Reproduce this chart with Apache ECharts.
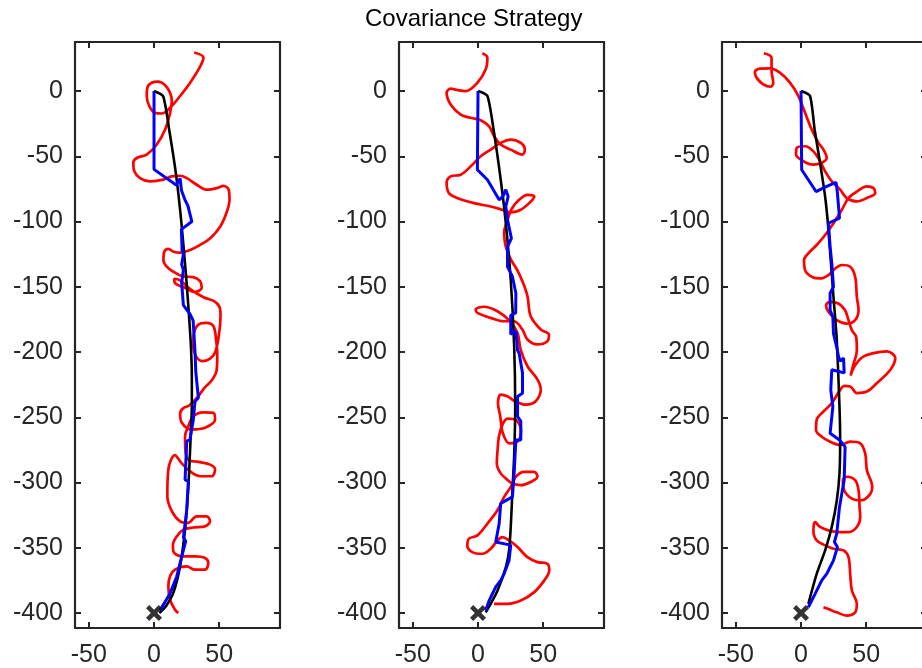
<!DOCTYPE html>
<html>
<head>
<meta charset="utf-8">
<script src="https://cdn.jsdelivr.net/npm/echarts@6/dist/echarts.min.js"></script>
<style>
  html, body { margin: 0; padding: 0; background: #ffffff; }
  #chart { width: 922px; height: 668px; }
</style>
</head>
<body>
<div id="chart"></div>
<script>
// ---- Tick values ----
const xTicks = [-50, 0, 50];
const yTicks = [-400, -350, -300, -250, -200, -150, -100, -50, 0];
const startPoint = [[0, -400]];

// ---- Run 1 ----
const truth1 = [[0,0],[7,-4],[12,-32],[17,-65],[21,-101],[25,-147],[28,-190],[29,-220],[29,-242],[28,-267],[26.5,-300],[24,-334],[20,-364],[15,-384],[9,-395],[4,-400]];
const est1 = [[0,0],[0,-60],[17,-72],[20,-67],[21,-76],[24,-84],[26,-88],[29,-100],[21,-106],[21.5,-122],[22.5,-125],[21.2,-133],[22.5,-137],[21.2,-147],[22.5,-164],[27.6,-171],[30,-176],[31.4,-199],[32,-215],[34,-235],[31.4,-238],[30.1,-252],[27.6,-267],[25.1,-268.4],[23.8,-298],[26.3,-299],[25.1,-321],[22.5,-342],[24.3,-345],[21.2,-357],[17.4,-372],[12.3,-385],[4.6,-398]];
const meas1 = [[30.8,29.5],[37.9,25.6],[34.9,17.9],[27.7,6.4],[20,-3.8],[12.3,-12.8],[5.9,-17.2],[0.8,-16.7],[-3.6,-11.5],[-5.6,-3.8],[-5.1,2.6],[-1.8,6.4],[3.3,7.2],[8.5,4.4],[12.3,-1.3],[13.6,-7.7],[12.3,-16.7],[8.5,-29.5],[2.1,-41],[-5.6,-48.7],[-13.3,-51.3],[-15.9,-55.1],[-15.1,-61.5],[-10.8,-66.7],[-3.1,-69.2],[7.2,-67.9],[13.6,-65.4],[20,-64.9],[25.1,-66.7],[32.8,-71.8],[40.5,-75.6],[48.2,-74.4],[53.3,-72.6],[57.2,-75.6],[57.9,-83.3],[55.9,-92.3],[50.8,-103.8],[43.1,-112.8],[35.4,-117.9],[27.7,-121.8],[20,-123.8],[14.9,-123.1],[11,-121],[7.9,-123.1],[7.2,-129.5],[9.7,-134.6],[14.9,-138.5],[22,-142],[30,-142.6],[35.3,-145.7],[36.6,-150.8],[31,-154],[24,-151],[16,-147],[15.5,-144],[20,-145],[28,-152],[38,-158],[46,-161],[50,-165],[51,-172],[50,-185],[47,-200],[43,-205],[37,-207],[32,-203],[30,-195],[30.5,-186],[34,-179],[40,-177.6],[45.5,-180],[47.5,-190],[48.5,-202],[48,-214],[44,-222],[39,-227],[33,-235],[27,-241],[22.5,-243],[20,-247],[21.2,-254],[28.9,-259.4],[39.1,-258.1],[46.8,-251.8],[45.5,-246.6],[37.8,-246.2],[30.1,-249.2],[26.3,-256.9],[23.8,-264.6],[24,-275],[27,-283],[33,-284],[43,-286.3],[46.8,-290],[44.2,-295.2],[35.3,-295.2],[27.6,-291.4],[21,-285],[16,-279],[11,-290],[10.2,-310.6],[13.6,-322],[19.9,-329.8],[26,-331],[32.7,-325.9],[40.4,-325.9],[42.9,-329.8],[39.1,-333.6],[30,-334.5],[22.5,-336.1],[17.4,-341.3],[14.5,-348],[14.8,-352.8],[21.2,-356.6],[31.4,-356.6],[39.1,-357.8],[41.6,-361.7],[39.1,-366.8],[31.4,-366.8],[25.1,-364.3],[16.1,-366.8],[12.3,-371.9],[11,-379.6],[12.3,-389.8],[16.1,-397.5],[18.6,-400]];

// ---- Run 2 ----
const truth2 = [[0,0],[7.2,-3.8],[12.3,-32],[17.4,-68],[21.3,-101],[25.1,-145],[27.7,-195],[28.5,-241.8],[27.7,-280],[26.4,-306],[25.1,-334],[23.8,-352],[21.3,-365],[14.9,-383],[9.7,-393],[5.9,-399.5]];
const est2 = [[0,0],[-0.5,-60.3],[7.2,-68],[16.2,-83.3],[19,-81],[21.3,-75.6],[23.1,-80.8],[21.3,-88.5],[22.6,-98.7],[25.6,-112.8],[22.6,-119.2],[22.6,-134.6],[26.4,-142.3],[29,-155],[28.9,-170],[25.1,-171.8],[25.1,-186.4],[29,-183.8],[30.3,-198.7],[31.5,-200.8],[34.1,-216],[34.1,-231.5],[30.3,-234],[30.3,-249.5],[32.8,-253],[32.8,-267.4],[29,-267.4],[27.7,-293],[26.4,-311],[17.4,-316],[16.2,-331.5],[13.6,-345.6],[25.1,-348],[23.8,-359.7],[20,-370],[17.4,-375],[13.6,-380],[8.5,-390.5],[5.9,-398]];
const meas2 = [[3.3,29],[7.2,25.6],[5.9,16.7],[-0.5,6.4],[-9.5,0],[-15.9,0.8],[-21,1.8],[-24.1,-1.3],[-21,-10.3],[-13.3,-18],[-5.6,-20.5],[2,-22.3],[8.5,-27],[12.3,-34.6],[17.4,-41],[25.1,-44.9],[34.1,-48.7],[35.9,-44.9],[32.8,-39.7],[25.1,-37.2],[17.4,-39.7],[9.7,-44.9],[2,-50],[-5.6,-57.7],[-13.3,-64.1],[-21,-65.4],[-24.1,-70.5],[-22.3,-78.2],[-15.9,-82],[-3.1,-85.9],[9.7,-88.5],[18.7,-91],[25.1,-93],[32.8,-91],[40.5,-84.6],[43.1,-80.8],[37.9,-79.5],[31.5,-83.3],[26,-90],[22.6,-98.7],[20,-109],[21.3,-119.2],[25.1,-129],[30,-137],[34,-145.7],[37.9,-157.2],[40.4,-172.5],[48.1,-182.7],[54.4,-186.6],[53.2,-191.7],[45.6,-194.2],[37.9,-190.4],[34,-182.7],[27.6,-176.4],[19.9,-176.4],[9.7,-173.8],[-0.5,-170],[-1.8,-167.4],[4.6,-165.3],[14.9,-168.7],[23.8,-175.6],[30.2,-185.3],[32.7,-198.1],[37.9,-210.9],[45.6,-221.1],[48.1,-228.8],[44.2,-237.7],[36.6,-240.3],[28,-237.5],[22.5,-233.9],[17.4,-232.6],[15.3,-239],[17,-249],[19,-262],[24,-270],[31,-268],[33,-260],[29,-252],[23,-251],[19,-255],[16,-265],[15,-275],[14.4,-285.4],[17.4,-293],[22.6,-298],[26.4,-300.8],[32.8,-302],[40.5,-299.5],[45.6,-295.6],[43.1,-291.8],[35.4,-291.8],[29,-295.6],[25.1,-303.3],[20,-311],[14.9,-321.3],[7.2,-331.5],[-0.5,-340.5],[-6.9,-343],[-8.2,-348.2],[-4.4,-353.3],[3.3,-354.6],[9.7,-350.8],[14.9,-344.4],[18.7,-341.8],[23.8,-344.4],[30.3,-349.5],[37.9,-357.2],[45.6,-361],[53.3,-362.3],[54.6,-367.4],[50.8,-375],[43.1,-384],[32.8,-390.5],[22.6,-393],[12.3,-393]];

// ---- Run 3 ----
const truth3 = [[0,0],[6.9,-3.8],[10.5,-30],[14.6,-55],[18.5,-81],[21,-106],[24.9,-158],[27.4,-190],[29.5,-242],[30,-267],[29.5,-293],[27.4,-314],[23.6,-334],[18.5,-352],[12,-370],[5.6,-393]];
const est3 = [[0,0],[0.5,-60.3],[5.6,-68],[11.5,-77],[19.7,-73],[26.9,-70],[27.9,-78],[29.5,-97.4],[21,-101.3],[22.3,-119],[23.6,-132],[24.9,-150],[22.3,-155],[22.3,-168],[24.4,-173],[24.9,-186],[27.4,-196.4],[28.7,-203.3],[30,-207],[32.6,-204.6],[33.1,-216],[23.6,-213.6],[22.8,-229],[24.4,-241.8],[22.3,-262.3],[29.5,-267.4],[33.8,-272.6],[33.1,-298],[29.5,-318.7],[27.4,-339.2],[25.6,-345.6],[27.9,-349.5],[24.9,-359.7],[19.7,-370],[15.9,-375],[10.8,-385.4],[5.6,-395.6]];
const meas3 = [[-28.5,29],[-22.6,25.6],[-22.6,15.4],[-21.3,6.4],[-23.3,3.3],[-29,5.1],[-34.1,10.3],[-35.4,14.6],[-31.5,17.2],[-23.8,17.4],[-16.2,14.1],[-8.5,6.4],[-2,-3.8],[3.1,-16.7],[8.2,-29.5],[13.3,-39.7],[17.2,-44.9],[19.7,-51.3],[15.9,-55],[9.5,-56.4],[1.8,-53.8],[-3.8,-48.7],[-3.3,-43.6],[3.1,-42.3],[9.5,-46.2],[14.6,-53.8],[18.5,-61.5],[23.6,-69.2],[30,-75.6],[35.1,-82],[42.8,-84.6],[50.5,-82],[56.9,-78.2],[55.6,-74.4],[50.5,-73],[42.8,-77],[36.4,-82],[31.3,-91],[24.9,-101.3],[18.5,-110.3],[12,-118],[5.6,-124.4],[2.3,-129.5],[3.1,-137.2],[8.2,-142.3],[14.6,-143.6],[21,-141],[26.2,-136],[31.3,-133.3],[37.7,-134.6],[41.5,-142.3],[42.8,-157.7],[44.1,-168],[41.5,-175.6],[35.1,-178.2],[27.4,-175.6],[21,-169.2],[19.2,-164.1],[22.3,-161.5],[28.7,-162.8],[33.8,-168],[36.4,-175.6],[39,-183.3],[42.3,-188.5],[42.8,-198.7],[40,-210],[38,-218],[41,-211],[47,-204],[55.6,-200.8],[65.9,-199.5],[72.3,-204.6],[68.5,-213.6],[58.2,-223.8],[50.5,-230.3],[42.8,-231.5],[37.7,-226.4],[33,-226],[30,-229],[23.6,-239.2],[17.2,-245.6],[12,-252],[11.5,-259.7],[15.9,-264.9],[22.3,-268.7],[30,-271.3],[37.7,-268.7],[45.4,-270],[49.2,-277.7],[50.5,-290.5],[54.6,-303.3],[53.3,-308.5],[46.7,-313.6],[39,-312.3],[33.1,-305.9],[32.1,-298.2],[35.1,-295.6],[41.5,-298.2],[44.1,-305.9],[44.9,-318.7],[45.4,-326.4],[42.8,-334.1],[36.4,-338],[28.7,-338],[21,-336.7],[14.6,-334],[10.8,-330.3],[9.5,-336.7],[12,-344.4],[18.5,-348.2],[24.9,-350.8],[32.6,-352],[36.4,-357.2],[37.7,-370],[39,-382.8],[42.8,-393],[41.5,-399.5],[35.1,-402],[27.4,-399.5],[21,-397],[17.2,-395.6]];

const runs = [
  { meas: meas1, truth: truth1, est: est1 },
  { meas: meas2, truth: truth2, est: est2 },
  { meas: meas3, truth: truth3, est: est3 }
];

// ---- Layout & style ----
const gridLefts = [75, 399, 722];
const gridTop = 42;
const gridWidth = 205;
const gridHeight = 586;
const xRange = [-60.6, 96.6];
const yRange = [-411.5, 37.6];
const axisColor = '#262626';
const fontFamily = '"Liberation Sans", Arial, Helvetica, sans-serif';

// bold "x" marker for the start position
const crossPath = 'path://M0,2 L2,0 L5,3 L8,0 L10,2 L7,5 L10,8 L8,10 L5,7 L2,10 L0,8 L3,5 Z';

function makeAxis(kind, gridIndex, position, showLabels, ticks, range) {
  return {
    type: 'value',
    gridIndex: gridIndex,
    position: position,
    min: range[0],
    max: range[1],
    splitLine: { show: false },
    axisLine: { show: true, onZero: false, lineStyle: { color: axisColor, width: 2.2 } },
    axisTick: { show: true, inside: true, length: 6, customValues: ticks, lineStyle: { color: axisColor, width: 2 } },
    axisLabel: {
      show: showLabels,
      customValues: ticks,
      color: axisColor,
      fontFamily: fontFamily,
      fontSize: 25,
      margin: kind === 'x' ? 15 : 12
    }
  };
}

const grids = [];
const xAxes = [];
const yAxes = [];
const series = [];

runs.forEach(function (run, i) {
  grids.push({
    left: gridLefts[i], top: gridTop, width: gridWidth, height: gridHeight,
    containLabel: false, outerBoundsMode: 'none'
  });
  xAxes.push(makeAxis('x', i, 'bottom', true, xTicks, xRange));
  xAxes.push(makeAxis('x', i, 'top', false, xTicks, xRange));
  yAxes.push(makeAxis('y', i, 'left', true, yTicks, yRange));
  yAxes.push(makeAxis('y', i, 'right', false, yTicks, yRange));
  const xi = i * 2;
  const yi = i * 2;
  series.push({
    type: 'line', xAxisIndex: xi, yAxisIndex: yi, data: run.meas,
    smooth: 0.35, showSymbol: false, silent: true, z: 2,
    lineStyle: { color: '#ff0000', width: 2.7 }
  });
  series.push({
    type: 'line', xAxisIndex: xi, yAxisIndex: yi, data: run.truth,
    smooth: 0.2, showSymbol: false, silent: true, z: 3,
    lineStyle: { color: '#000000', width: 2.6 }
  });
  series.push({
    type: 'line', xAxisIndex: xi, yAxisIndex: yi, data: run.est,
    smooth: false, showSymbol: false, silent: true, z: 4,
    lineStyle: { color: '#0000ff', width: 3 }
  });
  series.push({
    type: 'scatter', xAxisIndex: xi, yAxisIndex: yi, data: startPoint,
    symbol: crossPath, symbolSize: 16, silent: true, z: 5,
    itemStyle: { color: '#000000' }
  });
});

const chart = echarts.init(document.getElementById('chart'), null, { renderer: 'canvas' });
chart.setOption({
  animation: false,
  backgroundColor: '#ffffff',
  grid: grids,
  xAxis: xAxes,
  yAxis: yAxes,
  series: series,
  graphic: [{
    type: 'text',
    left: 477 - 112,
    top: 7,
    style: {
      text: 'Covariance Strategy',
      fill: '#000000',
      font: '24px ' + fontFamily
    }
  }]
});
</script>
</body>
</html>
